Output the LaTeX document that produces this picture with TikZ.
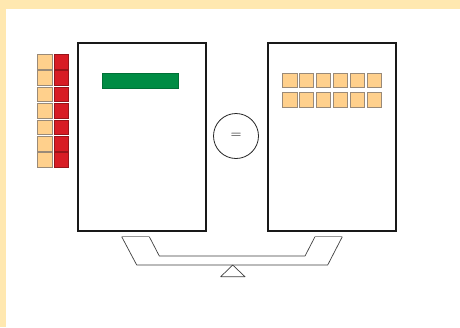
\documentclass[tikz,border=0pt]{standalone}
\definecolor{bandY}{HTML}{FFE8B0}
\definecolor{tanC}{HTML}{FFD08C}
\definecolor{redC}{HTML}{D81C24}
\definecolor{greenC}{HTML}{008C44}
\definecolor{edgeC}{HTML}{9A8A78}
\begin{document}
\begin{tikzpicture}[x=1pt,y=-1pt,
  pan/.style={draw=black!90,line width=2pt,minimum width=128pt,minimum height=188pt,inner sep=0pt,anchor=north west},
  tansq/.style={fill=tanC,draw=edgeC,line width=0.6pt,minimum size=14.5pt,inner sep=0pt,anchor=north west},
  redsq/.style={fill=redC,draw=redC!70!black,line width=0.5pt,minimum size=14.5pt,inner sep=0pt,anchor=north west},
  eqc/.style={circle,draw=black!85,line width=0.8pt,minimum size=45pt,inner sep=0pt,font=\Large}]
\useasboundingbox (0,0) rectangle (460,327);
\fill[white] (0,0) rectangle (460,327);
\fill[bandY] (0,0) rectangle (460,8.5);
\fill[bandY] (0,0) rectangle (6,327);
% pans
\node[pan] (L) at (77,42) {};
\node[pan] (R) at (267,42) {};
\node[eqc] (eq) at (236,136) {$=$};
% green bar
\node[fill=greenC,draw=greenC!80!black,line width=0.4pt,minimum width=76pt,minimum height=14.5pt,inner sep=0pt,anchor=north west] (g) at (102,73) {};
% left squares
\foreach \i in {0,...,6}{
  \node[tansq] (t\i) at (37,54+16.4*\i) {};
  \node[redsq] (r\i) at (53.5,54+16.4*\i) {};
}
% right squares
\foreach \j in {0,...,5}{
  \node[tansq] (a\j) at (282+16.9*\j,72.5) {};
  \node[tansq] (b\j) at (282+16.9*\j,92.3) {};
}
% scale tray
\draw[black!75,line width=0.7pt,line join=round]
  (149.3,236.7) -- (159.3,256) -- (305,256) -- (315,236.7);
\draw[black!75,line width=0.7pt,line join=round]
  (342.3,236.7) -- (327.7,265) -- (136.7,265) -- (121.7,236.7);
\draw[black!40,line width=0.9pt] (121.7,236.7) -- (149.3,236.7);
\draw[black!40,line width=0.9pt] (315,236.7) -- (342.3,236.7);
\draw[black!75,line width=0.7pt,line join=round] (232.7,265) -- (245,276.7) -- (220.7,276.7) -- cycle;
\end{tikzpicture}
\end{document}
